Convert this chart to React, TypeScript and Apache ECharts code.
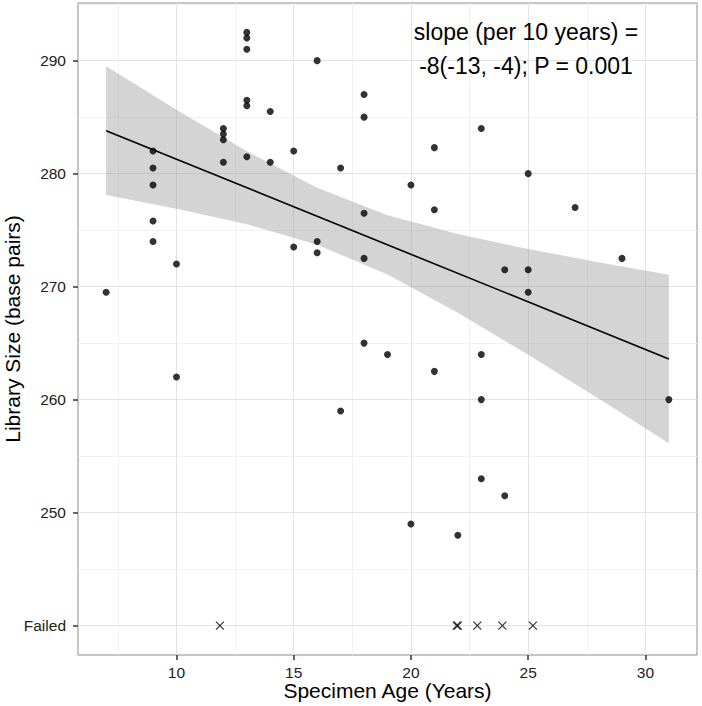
import React, { useEffect, useRef } from "react";
import * as echarts from "echarts";

// Specimen age (years) and library size (base pairs)
const ages = [7, 9, 9, 9, 9, 9, 10, 10, 12, 12, 12, 12, 13, 13, 13, 13, 13, 13, 14, 14, 15, 15, 16, 16, 16, 17, 17, 18, 18, 18, 18, 18, 19, 20, 20, 21, 21, 21, 22, 23, 23, 23, 23, 24, 24, 25, 25, 25, 27, 29, 31];
const sizes = [269.5, 282, 280.5, 279, 275.8, 274, 272, 262, 284, 283.5, 283, 281, 292.5, 292, 291, 286.5, 286, 281.5, 285.5, 281, 282, 273.5, 290, 274, 273, 280.5, 259, 287, 285, 276.5, 272.5, 265, 264, 279, 249, 282.3, 276.8, 262.5, 248, 284, 264, 260, 253, 271.5, 251.5, 280, 271.5, 269.5, 277, 272.5, 260];

// Failed specimens (plotted at the "Failed" level)
const failedAges = [11.85, 21.95, 22.0, 22.83, 23.9, 25.2];
const FAILED = 240;

// Fitted line and confidence band
const fitX = [7, 31];
const fitY = [283.8, 263.6];
const bandX = [7, 10, 13, 16, 19, 22, 25, 28, 31];
const bandUpper = [289.5, 285.65, 281.98, 278.74, 276.32, 274.65, 273.33, 272.15, 271.05];
const bandLower = [278.1, 276.9, 275.52, 273.7, 271.08, 267.69, 263.97, 260.09, 256.15];

// Ticks and grid lines
const xTicks = [10, 15, 20, 25, 30];
const xMinor = [7.5, 12.5, 17.5, 22.5, 27.5];
const yTicks = [240, 250, 260, 270, 280, 290];
const yMinor = [245, 255, 265, 275, 285, 295];

const FONT = "'Liberation Sans', Arial, Helvetica, sans-serif";

export default function App() {
  const ref = useRef<HTMLDivElement>(null);
  useEffect(() => {
    if (!ref.current) return;
    const chart = echarts.init(ref.current, null, { renderer: "svg" });
    const gridLine = (v: number, axis: "xAxis" | "yAxis", color: string) => ({
      [axis]: v,
      lineStyle: { color, width: 1, type: "solid" },
    });
    const option: any = {
      animation: false,
      backgroundColor: "#ffffff",
      textStyle: { fontFamily: FONT },
      grid: {
        left: 78,
        right: 5,
        top: 3,
        bottom: 51,
        containLabel: false,
        outerBoundsMode: "none",
        show: true,
        backgroundColor: "#ffffff",
        borderColor: "#8c8c8c",
        borderWidth: 1,
      },
      xAxis: {
        type: "value",
        min: 5.8,
        max: 32.2,
        name: "Specimen Age (Years)",
        nameLocation: "middle",
        nameGap: 25,
        nameMoveOverlap: false,
        nameTextStyle: { fontSize: 21, color: "#000", fontFamily: FONT },
        axisLine: { show: false },
        splitLine: { show: false },
        axisTick: {
          show: true,
          customValues: xTicks,
          length: 5,
          lineStyle: { color: "#333", width: 1.5 },
        },
        axisLabel: {
          customValues: xTicks,
          margin: 9,
          fontSize: 15.5,
          color: "#222",
          fontFamily: FONT,
          formatter: (v: number) => (xTicks.includes(v) ? String(v) : ""),
        },
      },
      yAxis: {
        type: "value",
        min: 237.4,
        max: 295.1,
        name: "Library Size (base pairs)",
        nameLocation: "middle",
        nameGap: 55,
        nameMoveOverlap: false,
        nameTextStyle: { fontSize: 21, color: "#000", fontFamily: FONT },
        axisLine: { show: false },
        splitLine: { show: false },
        axisTick: {
          show: true,
          customValues: yTicks,
          length: 5,
          lineStyle: { color: "#333", width: 1.5 },
        },
        axisLabel: {
          customValues: yTicks,
          margin: 12,
          fontSize: 15.5,
          color: "#222",
          fontFamily: FONT,
          formatter: (v: number) =>
            v === FAILED ? "Failed" : yTicks.includes(v) ? String(v) : "",
        },
      },
      series: [
        {
          type: "line",
          data: [],
          silent: true,
          z: 1,
          markLine: {
            z: 1,
            silent: true,
            symbol: ["none", "none"],
            label: { show: false },
            emphasis: { disabled: true },
            data: [
              ...xMinor.map((v) => gridLine(v, "xAxis", "#f2f2f2")),
              ...yMinor.map((v) => gridLine(v, "yAxis", "#f2f2f2")),
              ...xTicks.map((v) => gridLine(v, "xAxis", "#e3e3e3")),
              ...yTicks.map((v) => gridLine(v, "yAxis", "#e3e3e3")),
            ],
          },
        },
        {
          type: "custom",
          z: 2,
          silent: true,
          data: [[bandX[0], bandUpper[0]]],
          renderItem: (params: any, api: any) => {
            const pts: number[][] = [];
            bandX.forEach((x, i) => pts.push(api.coord([x, bandUpper[i]])));
            for (let i = bandX.length - 1; i >= 0; i--) {
              pts.push(api.coord([bandX[i], bandLower[i]]));
            }
            return {
              type: "polygon",
              shape: { points: pts },
              style: { fill: "rgba(153,153,153,0.42)" },
            };
          },
        },
        {
          type: "line",
          z: 3,
          silent: true,
          symbol: "none",
          data: fitX.map((x, i) => [x, fitY[i]]),
          lineStyle: { color: "#000", width: 1.6 },
        },
        {
          type: "scatter",
          z: 4,
          symbol: "circle",
          symbolSize: 7,
          data: ages.map((a, i) => [a, sizes[i]]),
          itemStyle: { color: "#000" },
        },
        {
          type: "scatter",
          z: 4,
          symbol: "path://M0,0L10,10M10,0L0,10",
          symbolSize: 8,
          data: failedAges.map((a) => [a, FAILED]),
          itemStyle: { color: "none", borderColor: "#000", borderWidth: 1.2 },
        },
      ],
      graphic: [
        {
          type: "text",
          z: 100,
          x: 526,
          y: 32,
          style: {
            text: "slope (per 10 years) =",
            font: `23px ${FONT}`,
            fill: "#000",
            textAlign: "center",
            textVerticalAlign: "middle",
          },
        },
        {
          type: "text",
          z: 100,
          x: 526,
          y: 66,
          style: {
            text: "-8(-13, -4); P = 0.001",
            font: `23px ${FONT}`,
            fill: "#000",
            textAlign: "center",
            textVerticalAlign: "middle",
          },
        },
      ],
    };
    chart.setOption(option);
    return () => chart.dispose();
  }, []);
  return (
    <div
      ref={ref}
      style={{ position: "fixed", left: 0, top: 0, width: 702, height: 706 }}
    />
  );
}
